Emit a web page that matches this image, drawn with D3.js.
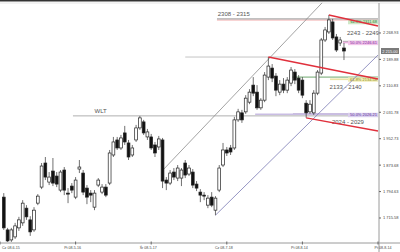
<!DOCTYPE html>
<html>
<head>
<meta charset="utf-8">
<script src="https://cdn.jsdelivr.net/npm/d3@7"></script>
<style>
  body { margin: 0; background: #fff; }
  svg { display: block; font-family: "Liberation Sans", Arial, sans-serif; }
</style>
</head>
<body>
<svg id="chart" width="400" height="252"></svg>
<script>
// candles, one per session (prices)
const open  = [1778,1680,1650,1659,1686,1701,1745,1710,1680,1760,
               1808,1880,1823,1856,1841,1799,1859,1790,1811,1778,
               1862,1850,1805,1790,1748,1814,1793,1808,1820,1904,
               1949,1925,1970,1940,1904,1949,1985,2003,1958,1958,
               1934,1928,1949,1829,1820,1853,1835,1835,1880,1847,
               1853,1817,1793,1784,1754,1778,1739,1799,1874,1919,
               1925,1925,2009,2030,2033,2062,2113,2092,2045,2068,
               2137,2164,2140,2092,2116,2098,2119,2152,2134,2128,
               2059,2033,2030,2089,2149,2248,2272,2302,2257,2239,2224];
const high  = [1790,1686,1686,1701,1719,1769,1754,1721,1748,1787,
               1880,1898,1853,1895,1853,1859,1868,1805,1820,1838,
               1889,1859,1814,1799,1799,1835,1817,1817,1919,1958,
               1958,1964,1991,1949,1934,1994,2021,2009,1982,1967,
               1943,1961,1955,1838,1859,1865,1874,1865,1889,1874,
               1862,1826,1802,1793,1784,1793,1781,1874,1940,1928,
               1934,2018,2042,2039,2083,2101,2137,2113,2074,2152,
               2197,2176,2149,2128,2134,2137,2167,2161,2143,2137,
               2068,2068,2098,2158,2254,2287,2323,2311,2266,2257,2239];
const low   = [1680,1644,1644,1653,1677,1692,1710,1662,1674,1754,
               1802,1829,1814,1811,1808,1793,1784,1760,1790,1772,
               1850,1784,1757,1763,1739,1808,1787,1778,1814,1898,
               1919,1919,1934,1889,1898,1943,1979,1964,1949,1919,
               1898,1919,1805,1799,1814,1829,1826,1811,1835,1841,
               1805,1796,1763,1769,1745,1748,1724,1793,1868,1901,
               1904,1919,2003,2000,2027,2056,2080,2039,2039,2062,
               2128,2122,2080,2083,2089,2089,2110,2116,2089,2074,
               2015,2027,2024,2083,2143,2242,2266,2248,2212,2230,2188];
const close = [1686,1647,1680,1692,1710,1760,1719,1674,1739,1781,
               1871,1838,1838,1820,1817,1853,1799,1787,1799,1829,
               1868,1793,1778,1784,1790,1829,1808,1784,1910,1943,
               1925,1955,1943,1898,1925,1985,2015,1970,1973,1925,
               1910,1952,1826,1820,1850,1838,1865,1859,1844,1865,
               1814,1805,1784,1781,1775,1754,1775,1865,1919,1910,
               1913,2009,2033,2009,2074,2092,2089,2045,2068,2143,
               2170,2134,2098,2116,2098,2128,2158,2128,2098,2083,
               2030,2056,2089,2152,2248,2278,2308,2254,2218,2248,2215];

// axes
const yTicks = [1715.58, 1794.63, 1873.68, 1952.73, 2031.78, 2110.83, 2189.88, 2268.93];
const xTickIdx = [-1, 19, 39, 59, 79, 99];
const xTickLabels = ["Cz 08-6-15", "Pt 08-5-16", "Śr 08-5-17", "Cz 08-7-18", "Pt 08-8-14", "Pt 08-8-14"];

// support / resistance zones
const zoneNames = ["2308 - 2315", "2243 - 2249", "2133 - 2140", "2024 - 2029"];
const zoneLevel = [2311, 2244, 2137, 2026];
const zoneBandLo = [2306, 2238, 2128, 2024];
const zoneBandHi = [2309, 2245, 2133, 2028];
const fibTexts = ["61.8% 2311.68", "50.0% 2246.61", "61.8% 2134.58", "50.0% 2026.21"];
const wltLevel = 2021;
const resistLevel = 2197;

// trend lines [startIdx, startPrice, endIdx, endPrice]
const redLines = [[86, 2323, 99, 2290], [70, 2197, 99, 2131], [80, 2015, 99, 1976]];
const channelLines = [[42.1, 1859, 84.2, 2359], [56, 1724, 99, 2203]];

const svg = d3.select('#chart');
const W = 400, H = 252;
const axisX = 378, axisY = 243;

const x = d3.scaleLinear().domain([-1, 99]).range([0, axisX]);
const y = d3.scaleLinear().domain([1640.8, 2358.6]).range([axisY, 3]);
const fmt = v => d3.format(',.2f')(v).replace(',', ' ');

// frame
svg.append('rect').attr('x', 0).attr('y', 0).attr('width', W).attr('height', 1.5).attr('fill', '#333');
svg.append('line').attr('x1', 0).attr('x2', W).attr('y1', 3).attr('y2', 3).attr('stroke', '#e6e6e6');

const g = svg.append('g');

// zone styling (by zone)
const zoneStart = [56.4, 89.7, 75.7, 66.5];
const bandStart = [56.4, 89.7, 86.3, 76.5];
const zoneLine = ['#8a8a8a', '#b0b0b0', '#5c9c5c', '#c9bde3'];
const bandFill = ['#f0a8a8', '#e9a6da', '#e6dc96', '#7a5aa8'];
const fibColor = ['#2f7d32', '#7a2a9a', '#8c8a10', '#5a2f98'];
const fibBg = ['#cfe8c8', '#f2c4ea', '#f1ecb8', '#d9cdee'];
// [idx, dy from level, fib text dy from band centre]
const nameLayout = [[56.6, -2.5, 3.2], [90.8, -6, 2], [86.2, 12, 1.5], [86.8, 9.5, 2]];

// WLT line
g.append('line')
  .attr('x1', x(18.3)).attr('x2', x(99))
  .attr('y1', y(wltLevel)).attr('y2', y(wltLevel))
  .attr('stroke', '#9a9a9a').attr('stroke-width', 0.8);
g.append('text').attr('x', x(24)).attr('y', y(wltLevel) - 2.5)
  .attr('font-size', 6).attr('fill', '#555').text('WLT');

// resistance line
g.append('line')
  .attr('x1', x(48)).attr('x2', x(99))
  .attr('y1', y(resistLevel)).attr('y2', y(resistLevel))
  .attr('stroke', '#b5b5b5').attr('stroke-width', 0.8);

zoneNames.forEach((name, k) => {
  g.append('rect')
    .attr('x', x(bandStart[k])).attr('width', x(99) - x(bandStart[k]))
    .attr('y', y(zoneBandHi[k])).attr('height', Math.max(1, y(zoneBandLo[k]) - y(zoneBandHi[k])))
    .attr('fill', bandFill[k]).attr('opacity', 0.85);
  g.append('line')
    .attr('x1', x(zoneStart[k])).attr('x2', x(99))
    .attr('y1', y(zoneLevel[k])).attr('y2', y(zoneLevel[k]))
    .attr('stroke', zoneLine[k]).attr('stroke-width', k === 3 ? 1.6 : 0.9);
  const [ni, dy, fdy] = nameLayout[k];
  g.append('text').attr('x', x(ni)).attr('y', y(zoneLevel[k]) + dy)
    .attr('font-size', 6).attr('fill', '#555').text(name);
  const fy = (y(zoneBandLo[k]) + y(zoneBandHi[k])) / 2 + fdy;
  g.append('rect').attr('x', 348).attr('y', fy - 3.4).attr('width', 30).attr('height', 4.4)
    .attr('fill', fibBg[k]);
  g.append('text').attr('x', 377).attr('y', fy).attr('text-anchor', 'end')
    .attr('font-size', 4).attr('fill', fibColor[k]).text(fibTexts[k]);
});

// channel lines
g.selectAll('line.channel').data(channelLines).enter().append('line')
  .attr('class', 'channel')
  .attr('x1', d => x(d[0])).attr('y1', d => y(d[1]))
  .attr('x2', d => x(d[2])).attr('y2', d => y(d[3]))
  .attr('stroke', (d, i) => i === 0 ? '#8c8c8c' : '#7a7ab4')
  .attr('stroke-width', 0.8);

// candles
const candles = open.map((o, i) => ({i, o, h: high[i], l: low[i], c: close[i]}));
const bw = 2.8;
const cg = g.selectAll('g.candle').data(candles).enter().append('g').attr('class', 'candle');
cg.append('line')
  .attr('x1', d => x(d.i)).attr('x2', d => x(d.i))
  .attr('y1', d => y(d.h)).attr('y2', d => y(d.l))
  .attr('stroke', '#333').attr('stroke-width', 0.7);
cg.append('rect')
  .attr('x', d => x(d.i) - bw / 2).attr('width', bw)
  .attr('y', d => y(Math.max(d.o, d.c)))
  .attr('height', d => Math.max(0.8, Math.abs(y(d.o) - y(d.c))))
  .attr('fill', d => d.c >= d.o ? '#fff' : '#111')
  .attr('stroke', '#222').attr('stroke-width', 0.7);

// red trend lines
g.selectAll('line.red').data(redLines).enter().append('line')
  .attr('class', 'red')
  .attr('x1', d => x(d[0])).attr('y1', d => y(d[1]))
  .attr('x2', d => x(d[2])).attr('y2', d => y(d[3]))
  .attr('stroke', '#e0303c').attr('stroke-width', 1.5);

// right axis
svg.append('line').attr('x1', axisX + 1).attr('x2', axisX + 1).attr('y1', 3).attr('y2', H)
  .attr('stroke', '#9a9a9a');
const ya = svg.append('g').selectAll('g').data(yTicks).enter().append('g');
ya.append('line').attr('x1', axisX + 1).attr('x2', axisX + 3)
  .attr('y1', d => y(d)).attr('y2', d => y(d)).attr('stroke', '#666');
ya.append('text').attr('x', axisX + 5).attr('y', d => y(d) + 1.4)
  .attr('font-size', 4).attr('fill', '#444').text(d => fmt(d));

// last price box
const last = close[close.length - 1];
svg.append('rect').attr('x', 381).attr('y', y(last) - 3).attr('width', 18).attr('height', 6)
  .attr('fill', '#7a7a7a');
svg.append('text').attr('x', 390).attr('y', y(last) + 1.5).attr('text-anchor', 'middle')
  .attr('font-size', 4).attr('fill', '#fff').text(fmt(last));

// bottom axis
svg.append('line').attr('x1', 0).attr('x2', W).attr('y1', axisY).attr('y2', axisY)
  .attr('stroke', '#9a9a9a');
const xa = svg.append('g').selectAll('g').data(xTickIdx).enter().append('g');
xa.append('line').attr('x1', d => x(d)).attr('x2', d => x(d))
  .attr('y1', axisY - 1.5).attr('y2', axisY + 1.5).attr('stroke', '#666');
xa.append('text')
  .attr('x', (d, i) => i === 0 ? 2 : i === xTickIdx.length - 1 ? x(d) + 5 : x(d) - 3)
  .attr('y', axisY + 5.5)
  .attr('text-anchor', (d, i) => i === 0 ? 'start' : 'middle')
  .attr('font-size', 3.6).attr('fill', '#444')
  .text((d, i) => xTickLabels[i]);
</script>
</body>
</html>
